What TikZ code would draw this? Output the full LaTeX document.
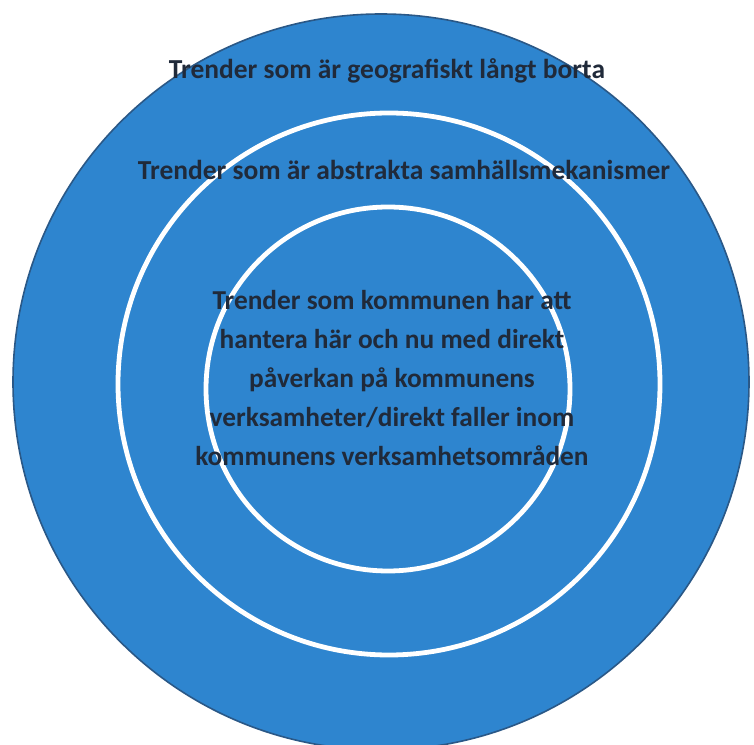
\documentclass[tikz,border=0pt]{standalone}
\usepackage{fontspec}
\setmainfont{Carlito}
\definecolor{ringblue}{RGB}{46,133,207}
\definecolor{rimblue}{RGB}{42,88,135}
\definecolor{trendtext}{RGB}{32,42,58}

\begin{document}
\begin{tikzpicture}[
  x=0.75pt, y=-0.75pt,
  disc/.style    ={fill=ringblue,draw=rimblue,line width=1.2pt},
  ring/.style    ={draw=white,line width=3.6pt},
  trend/.style   ={text=trendtext,font=\bfseries\fontsize{20.6}{24}\selectfont,
                   inner sep=0pt},
  core/.style    ={trend,align=center,
                   font=\bfseries\fontsize{20.5}{29.3}\selectfont},
]
\useasboundingbox (0,0) rectangle (754,745);

%% ============================================================
%%  Outer disc and the two white rings
%% ============================================================
\coordinate (mid) at (381,382);
\fill[white] (0,0) rectangle (754,745);
\draw[disc] (mid) circle [radius=368];
\draw[ring] (389,384) circle [radius=271];
\draw[ring] (388,389) circle [radius=182];

%% ============================================================
%%  Labels, outside in
%% ============================================================
\node[trend] (far) at (387,71) {Trender som är geografiskt långt borta};
\node[trend] (abstract) at (404,170)
      {Trender som är abstrakta samhällsmekanismer};
\node[core] (local) at (392,378)
      {Trender som kommunen har att\\
       hantera här och nu med direkt\\
       påverkan på kommunens\\
       verksamheter/direkt faller inom\\
       kommunens verksamhetsområden};

\end{tikzpicture}
\end{document}
